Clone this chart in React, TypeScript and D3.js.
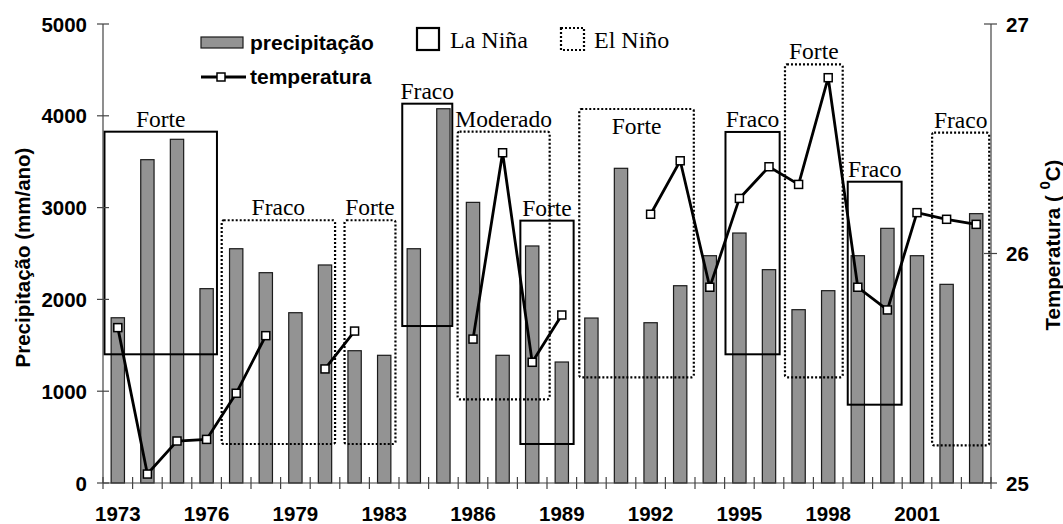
import React from "react";
import * as d3 from "d3";

// ---- Data ----
const years: string[] = [
  "1973", "1974", "1975", "1976", "1977", "1978", "1979", "1980", "1982", "1983",
  "1984", "1985", "1986", "1987", "1988", "1989", "1990", "1991", "1992", "1993",
  "1994", "1995", "1996", "1997", "1998", "1999", "2000", "2001", "2002", "2003",
];
const tickYears: string[] = ["1973", "1976", "1979", "1983", "1986", "1989", "1992", "1995", "1998", "2001"];

const precipitation: number[] = [
  1800, 3522, 3744, 2117, 2552, 2291, 1855, 2375, 1441, 1391,
  2552, 4077, 3057, 1391, 2582, 1318, 1797, 3428, 1746, 2149,
  2476, 2723, 2324, 1888, 2095, 2476, 2774, 2476, 2164, 2934,
];

const temperature: (number | null)[] = [
  25.677, 25.039, 25.183, 25.19, 25.391, 25.642, null, 25.497, 25.662, null,
  null, null, 25.627, 26.439, 25.526, 25.732, null, null, 26.171, 26.404,
  25.853, 26.24, 26.378, 26.301, 26.766, 25.853, 25.754, 26.178, 26.149, 26.127,
];

const precipTicks: number[] = [0, 1000, 2000, 3000, 4000, 5000];
const tempTicks: number[] = [25, 26, 27];

// ENSO events: fractional category span, precipitation-unit span
type Event = { kind: "nina" | "nino"; label: string; from: number; to: number; top: number; bottom: number; labelInside?: boolean };
const events: Event[] = [
  { kind: "nina", label: "Forte", from: 0.05, to: 3.85, top: 3827, bottom: 1402 },
  { kind: "nino", label: "Fraco", from: 4.01, to: 7.84, top: 2862, bottom: 425 },
  { kind: "nino", label: "Forte", from: 8.16, to: 9.88, top: 2862, bottom: 425 },
  { kind: "nina", label: "Fraco", from: 10.11, to: 11.8, top: 4132, bottom: 1710 },
  { kind: "nino", label: "Moderado", from: 11.98, to: 15.09, top: 3827, bottom: 912 },
  { kind: "nina", label: "Forte", from: 14.1, to: 15.9, top: 2858, bottom: 425 },
  { kind: "nino", label: "Forte", from: 16.09, to: 19.96, top: 4074, bottom: 1151, labelInside: true },
  { kind: "nina", label: "Fraco", from: 21.03, to: 22.86, top: 3824, bottom: 1402 },
  { kind: "nino", label: "Forte", from: 23.04, to: 24.99, top: 4561, bottom: 1151 },
  { kind: "nina", label: "Fraco", from: 25.16, to: 26.98, top: 3282, bottom: 853 },
  { kind: "nino", label: "Fraco", from: 28.01, to: 29.94, top: 3816, bottom: 410 },
];

// ---- Layout ----
const W = 1063;
const H = 524;
const left = 103;
const right = 991;
const top = 24;
const bottom = 483;

const SANS = "'Liberation Sans', Arial, Helvetica, sans-serif";
const SERIF = "'Liberation Serif', 'Times New Roman', serif";

export default function App() {
  const x = d3.scaleBand<string>().domain(years).range([left, right]).padding(0);
  const bw = x.bandwidth();
  const xi = d3.scaleLinear().domain([0, years.length]).range([left, right]);
  const yP = d3.scaleLinear().domain([0, 5000]).range([bottom, top]);
  const yT = d3.scaleLinear().domain([25, 27]).range([bottom, top]);

  const barW = bw * 0.45;
  const pts = years.map((yr, i) => ({ yr, t: temperature[i] }));
  const line = d3
    .line<{ yr: string; t: number | null }>()
    .defined((d) => d.t !== null)
    .x((d) => (x(d.yr) as number) + bw / 2)
    .y((d) => yT(d.t as number));

  const ms = 8;

  return (
    <svg width={W} height={H} style={{ position: "absolute", left: 0, top: 0, background: "#fff" }}>
      {/* bars */}
      {years.map((yr, i) => (
        <rect
          key={"b" + yr}
          x={(x(yr) as number) + (bw - barW) / 2}
          y={yP(precipitation[i])}
          width={barW}
          height={bottom - yP(precipitation[i])}
          fill="#939393"
          stroke="#1a1a1a"
          strokeWidth={1.2}
        />
      ))}

      {/* ENSO boxes */}
      {events.map((e, i) => {
        const x0 = xi(e.from);
        const x1 = xi(e.to);
        const y0 = yP(e.top);
        const y1 = yP(e.bottom);
        return (
          <g key={"e" + i}>
            <rect
              x={x0}
              y={y0}
              width={x1 - x0}
              height={y1 - y0}
              fill="none"
              stroke="#000"
              strokeWidth={e.kind === "nina" ? 2 : 2.2}
              strokeDasharray={e.kind === "nino" ? "2,2" : undefined}
              rx={e.kind === "nino" ? 2 : 0}
            />
            <text
              x={(x0 + x1) / 2}
              y={e.labelInside ? y0 + 25 : y0 - 5}
              textAnchor="middle"
              fontFamily={SERIF}
              fontSize={23.5}
              fill="#000"
            >
              {e.label}
            </text>
          </g>
        );
      })}

      {/* temperature line */}
      <path d={line(pts) || ""} fill="none" stroke="#000" strokeWidth={2.8} strokeLinejoin="miter" />
      {pts.map((d) =>
        d.t === null ? null : (
          <rect
            key={"m" + d.yr}
            x={(x(d.yr) as number) + bw / 2 - ms / 2}
            y={yT(d.t) - ms / 2}
            width={ms}
            height={ms}
            fill="#fff"
            stroke="#000"
            strokeWidth={1.5}
          />
        )
      )}

      {/* left axis */}
      <line x1={left} x2={left} y1={top} y2={bottom} stroke="#444" strokeWidth={1.2} />
      {precipTicks.map((t) => (
        <g key={"pl" + t}>
          <line x1={left - 6} x2={left + 6} y1={yP(t)} y2={yP(t)} stroke="#444" strokeWidth={1.2} />
          <text
            x={left - 16}
            y={yP(t)}
            textAnchor="end"
            dominantBaseline="central"
            fontFamily={SANS}
            fontWeight="bold"
            fontSize={20.5}
          >
            {t}
          </text>
        </g>
      ))}
      <text
        transform={`translate(22,${(top + bottom) / 2 + 4}) rotate(-90)`}
        textAnchor="middle"
        dominantBaseline="central"
        fontFamily={SANS}
        fontWeight="bold"
        fontSize={20.5}
      >
        Precipitação (mm/ano)
      </text>

      {/* right axis */}
      <line x1={right} x2={right} y1={top} y2={bottom} stroke="#444" strokeWidth={1.2} />
      {tempTicks.map((t) => (
        <g key={"tr" + t}>
          <line x1={right - 7} x2={right + 6} y1={yT(t)} y2={yT(t)} stroke="#444" strokeWidth={1.2} />
          <text
            x={right + 15}
            y={yT(t)}
            textAnchor="start"
            dominantBaseline="central"
            fontFamily={SANS}
            fontWeight="bold"
            fontSize={20.5}
          >
            {t}
          </text>
        </g>
      ))}
      <text
        transform={`translate(1052,245) rotate(-90)`}
        textAnchor="middle"
        dominantBaseline="central"
        fontFamily={SANS}
        fontWeight="bold"
        fontSize={20.5}
      >
        {"Temperatura ( "}
        <tspan dy={-8} fontSize={15}>0</tspan>
        <tspan dy={8}>C)</tspan>
      </text>

      {/* x axis */}
      <line x1={left} x2={right} y1={bottom} y2={bottom} stroke="#444" strokeWidth={1.2} />
      {d3.range(years.length + 1).map((i) => (
        <line key={"xt" + i} x1={xi(i)} x2={xi(i)} y1={bottom - 6} y2={bottom + 6} stroke="#444" strokeWidth={1.2} />
      ))}
      {tickYears.map((yr) => (
        <text
          key={"xl" + yr}
          x={(x(yr) as number) + bw / 2}
          y={521}
          textAnchor="middle"
          fontFamily={SANS}
          fontWeight="bold"
          fontSize={20.5}
        >
          {yr}
        </text>
      ))}

      {/* legend */}
      <rect x={201} y={37} width={42} height={11} fill="#939393" stroke="#1a1a1a" strokeWidth={1.2} />
      <text x={250} y={50} fontFamily={SANS} fontWeight="bold" fontSize={21}>precipitação</text>
      <line x1={201} x2={246} y1={77} y2={77} stroke="#000" strokeWidth={2.8} />
      <rect x={221 - ms / 2} y={77 - ms / 2} width={ms} height={ms} fill="#fff" stroke="#000" strokeWidth={1.5} />
      <text x={250} y={84} fontFamily={SANS} fontWeight="bold" fontSize={21}>temperatura</text>

      <rect x={417} y={28} width={22} height={22} fill="none" stroke="#000" strokeWidth={2.2} />
      <text x={450} y={48} fontFamily={SERIF} fontSize={24}>La Niña</text>
      <rect x={561} y={28} width={23} height={22} fill="none" stroke="#000" strokeWidth={2.2} strokeDasharray="2,2" />
      <text x={594} y={48} fontFamily={SERIF} fontSize={24}>El Niño</text>
    </svg>
  );
}
